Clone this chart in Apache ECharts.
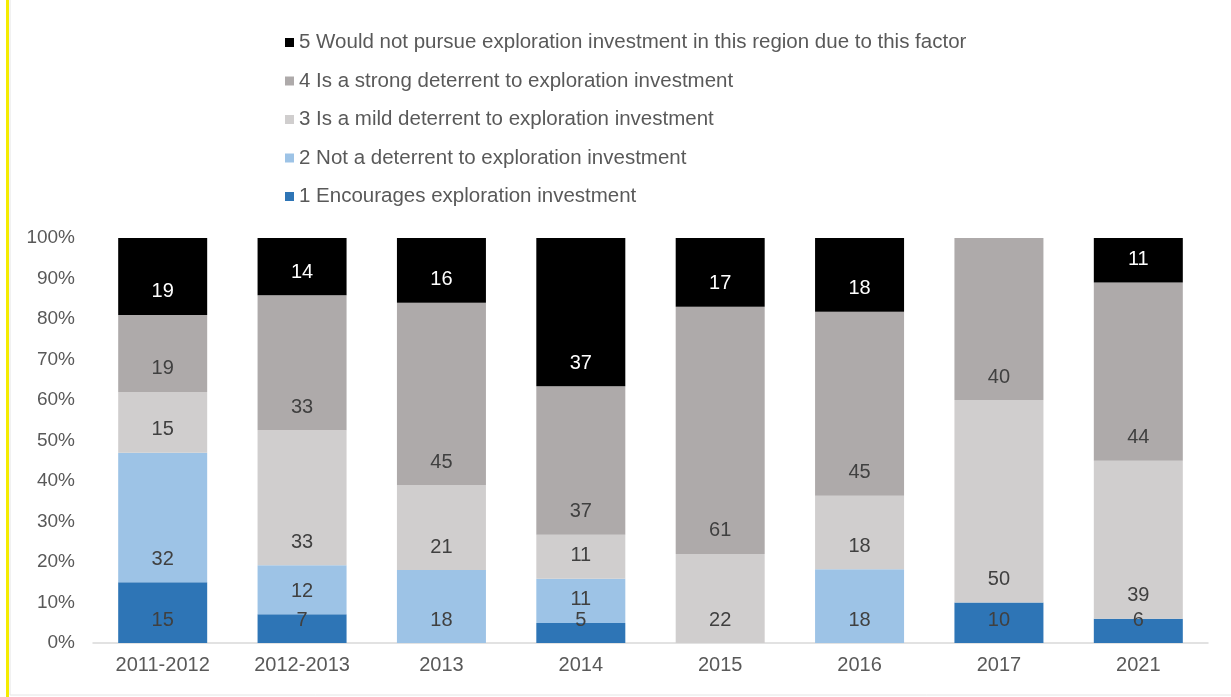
<!DOCTYPE html>
<html lang="en">
<head>
    <meta charset="UTF-8">
    <title>Exploration investment deterrent</title>
    <style>
        html, body { margin: 0; padding: 0; background: #fff; }
        #chart { width: 1231px; height: 697px; }
    </style>
</head>
<body>
    <div id="chart"></div>
    <script src="https://cdn.jsdelivr.net/npm/echarts@6/dist/echarts.min.js"></script>
    <script>
        // categories + series values (percent of respondents)
        let years = ['2011-2012', '2012-2013', '2013', '2014', '2015', '2016', '2017', '2021'];
        let encourages   = [15, 7, 0, 5, 0, 0, 10, 6];
        let notDeterrent = [32, 12, 18, 11, 0, 18, 0, 0];
        let mild         = [15, 33, 21, 11, 22, 18, 50, 39];
        let strong       = [19, 33, 45, 37, 61, 45, 40, 44];
        let wouldNot     = [19, 14, 16, 37, 17, 18, 0, 11];
        let yTicks = [0, 10, 20, 30, 40, 50, 60, 70, 80, 90, 100];

        let names = [
            '1 Encourages exploration investment',
            '2 Not a deterrent to exploration investment',
            '3 Is a mild deterrent to exploration investment',
            '4 Is a strong deterrent to exploration investment',
            '5 Would not pursue exploration investment in this region due to this factor'
        ];
        let colors = ['#2e75b6', '#9dc3e6', '#d0cece', '#aeaaaa', '#000000'];
        let values = [encourages, notDeterrent, mild, strong, wouldNot];

        // 100% stacked: each column is scaled to its own total, labels keep the raw value
        let totals = years.map(function(y, j) {
            return values.reduce(function(s, v) { return s + v[j]; }, 0);
        });

        let myChart = echarts.init(document.getElementById('chart'));

        let series = values.map(function(v, i) {
            return {
                name: names[i],
                type: 'bar',
                stack: 'total',
                barWidth: 89,
                data: v.map(function(x, j) { return { value: x / totals[j] * 100, raw: x }; }),
                itemStyle: { color: colors[i] },
                label: {
                    show: true,
                    position: 'insideBottom',
                    distance: 13,
                    fontSize: 20,
                    color: i === 4 ? '#ffffff' : '#404040',
                    formatter: function(p) { return p.data.raw ? String(p.data.raw) : ''; }
                }
            };
        });

        let chartOption = {
            animation: false,
            textStyle: { fontFamily: 'Liberation Sans' },
            graphic: [
                { type: 'rect', shape: { x: 6, y: 0, width: 3, height: 697 }, style: { fill: '#f5ec00' } },
                { type: 'rect', shape: { x: 10, y: -2, width: 1230, height: 697 }, style: { fill: 'none', stroke: '#e4e4e4', lineWidth: 1 } }
            ],
            legend: {
                orient: 'vertical',
                left: 280,
                top: 27,
                itemWidth: 9,
                itemHeight: 9,
                itemGap: 17.5,
                icon: 'rect',
                data: names.slice().reverse(),
                textStyle: { fontSize: 20.5, color: '#595959' }
            },
            grid: { left: 93, right: 23, top: 238, bottom: 54 },
            xAxis: {
                type: 'category',
                data: years,
                axisLine: { lineStyle: { color: '#d9d9d9', width: 1.5 } },
                axisTick: { show: false },
                axisLabel: { color: '#595959', fontSize: 20, margin: 12 }
            },
            yAxis: {
                type: 'value',
                min: 0,
                max: 100,
                interval: 10,
                splitLine: { show: false },
                axisLine: { show: false },
                axisLabel: {
                    color: '#595959',
                    fontSize: 19,
                    margin: 18,
                    formatter: function(v) { return yTicks.indexOf(v) >= 0 ? v + '%' : ''; }
                }
            },
            series: series
        };

        myChart.setOption(chartOption);
    </script>
</body>
</html>
